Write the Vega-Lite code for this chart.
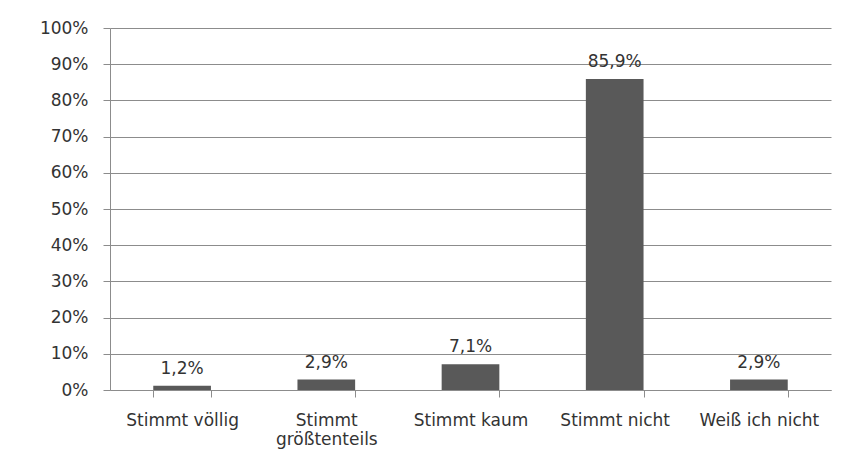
{
  "$schema": "https://vega.github.io/schema/vega-lite/v6.json",
  "width": 721,
  "height": 362,
  "autosize": "none",
  "padding": {"left": 110, "top": 28, "right": 13, "bottom": 79},
  "background": "white",
  "config": {
    "locale": {"number": {"decimal": ",", "thousands": ".", "grouping": [3], "currency": ["", " €"]}},
    "view": {"stroke": null},
    "font": "DejaVu Sans"
  },
  "data": {
    "values": [
      {"kategorie": "Stimmt völlig", "wert": 0.012},
      {"kategorie": "Stimmt größtenteils", "wert": 0.029},
      {"kategorie": "Stimmt kaum", "wert": 0.071},
      {"kategorie": "Stimmt nicht", "wert": 0.859},
      {"kategorie": "Weiß ich nicht", "wert": 0.029}
    ]
  },
  "encoding": {
    "x": {
      "field": "kategorie",
      "type": "nominal",
      "sort": null,
      "title": null,
      "scale": {"paddingInner": 0.6, "paddingOuter": 0.3},
      "axis": {
        "labelAngle": 0,
        "labelFont": "DejaVu Sans",
        "labelFontSize": 17,
        "labelColor": "#333333",
        "labelPadding": 15,
        "labelLineHeight": 19,
        "labelExpr": "datum.value == 'Stimmt größtenteils' ? ['Stimmt', 'größtenteils'] : datum.value",
        "tickBand": "extent",
        "tickSize": 7,
        "tickColor": "#8c8c8c",
        "domainColor": "#8c8c8c",
        "grid": false
      }
    },
    "y": {
      "field": "wert",
      "type": "quantitative",
      "title": null,
      "scale": {"domain": [0, 1], "nice": false},
      "axis": {
        "values": [0, 0.1, 0.2, 0.3, 0.4, 0.5, 0.6, 0.7, 0.8, 0.9, 1],
        "format": ".0%",
        "labelFont": "DejaVu Sans",
        "labelFontSize": 17,
        "labelColor": "#333333",
        "labelPadding": 15,
        "tickSize": 7,
        "tickColor": "#8c8c8c",
        "domainColor": "#8c8c8c",
        "gridColor": "#8c8c8c",
        "grid": true
      }
    }
  },
  "layer": [
    {"mark": {"type": "bar", "color": "#595959"}},
    {
      "mark": {"type": "text", "baseline": "alphabetic", "dy": -12, "fontSize": 17, "color": "#333333", "font": "DejaVu Sans"},
      "encoding": {"text": {"field": "wert", "type": "quantitative", "format": ".1%"}}
    }
  ]
}
